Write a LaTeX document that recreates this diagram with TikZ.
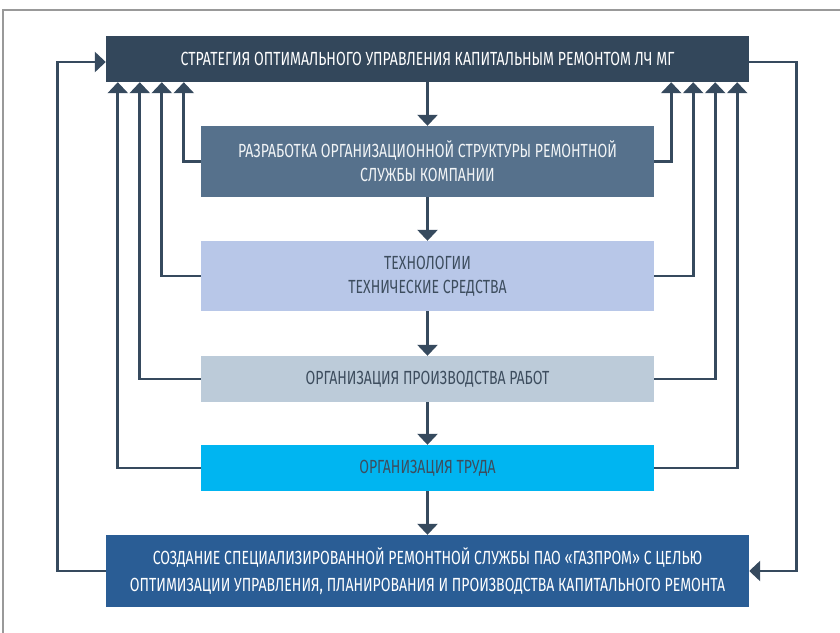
\documentclass[tikz,border=0pt]{standalone}
\usepackage{fontspec}
\setmainfont{Fira Sans}[FakeStretch=0.74]
\usetikzlibrary{arrows.meta,positioning}
\definecolor{linec}{HTML}{364A5E}
\definecolor{stratc}{HTML}{33475B}
\definecolor{devc}{HTML}{56718C}
\definecolor{techc}{HTML}{B8C7E8}
\definecolor{prodc}{HTML}{BCCBD9}
\definecolor{laborc}{HTML}{00B5F1}
\definecolor{finalc}{HTML}{2A5D95}
\definecolor{darktext}{HTML}{3D4D5E}

\begin{document}
\begin{tikzpicture}[x=1pt, y=-1pt,
    fb/.style={draw=linec, line width=2.7pt, -{Triangle[width=20pt, length=11pt]}},
    box/.style={inner sep=0pt, align=center, font=\fontsize{19}{24}\selectfont},
    wide/.style={box, minimum width=643pt},
    mid/.style={box, minimum width=453pt}]
  \useasboundingbox (0,0) rectangle (840,632);
  % ================================================================ frame
  \draw[gray!80, line width=1.5pt] (3,640) -- (3,10) -- (850,10);
  % ================================================================ boxes
  \node[wide, minimum height=46pt, fill=stratc, text=white] (strat) at (427.5,59)
     {СТРАТЕГИЯ ОПТИМАЛЬНОГО УПРАВЛЕНИЯ КАПИТАЛЬНЫМ РЕМОНТОМ ЛЧ МГ};
  \node[mid, minimum height=71pt, fill=devc, text=white!92!devc] (dev) at (427.5,161.5)
     {РАЗРАБОТКА ОРГАНИЗАЦИОННОЙ СТРУКТУРЫ РЕМОНТНОЙ\\СЛУЖБЫ КОМПАНИИ};
  \node[mid, minimum height=70pt, fill=techc, text=darktext] (tech) at (427.5,276)
     {ТЕХНОЛОГИИ\\ТЕХНИЧЕСКИЕ СРЕДСТВА};
  \node[mid, minimum height=46pt, fill=prodc, text=darktext] (prod) at (427.5,379)
     {ОРГАНИЗАЦИЯ ПРОИЗВОДСТВА РАБОТ};
  \node[mid, minimum height=46pt, fill=laborc, text=darktext] (labor) at (427.5,468)
     {ОРГАНИЗАЦИЯ ТРУДА};
  \node[wide, minimum height=72pt, fill=finalc, text=white, font=\fontsize{19}{27}\selectfont] (final) at (427.5,571)
     {СОЗДАНИЕ СПЕЦИАЛИЗИРОВАННОЙ РЕМОНТНОЙ СЛУЖБЫ ПАО «ГАЗПРОМ» С ЦЕЛЬЮ\\
      ОПТИМИЗАЦИИ УПРАВЛЕНИЯ, ПЛАНИРОВАНИЯ И ПРОИЗВОДСТВА КАПИТАЛЬНОГО РЕМОНТА};
  % ================================================================ main chain
  \draw[fb] (strat) -- (dev);
  \draw[fb] (dev) -- (tech);
  \draw[fb] (tech) -- (prod);
  \draw[fb] (prod) -- (labor);
  \draw[fb] (labor) -- (final);
  % ================================================================ feedback to the strategy
  \foreach \n/\d in {dev/78, tech/56, prod/34, labor/12} {
    \draw[fb] (\n.west) -| ([xshift=\d pt]strat.south west);
    \draw[fb] (\n.east) -| ([xshift=-\d pt]strat.south east);
  }
  % ================================================================ outer loop
  \draw[fb] (final.west) -- ++(-48,0) |- ([yshift=-3pt]strat.west);
  \draw[fb] ([yshift=-3pt]strat.east) -- ++(47,0) |- (final.east);
\end{tikzpicture}
\end{document}
